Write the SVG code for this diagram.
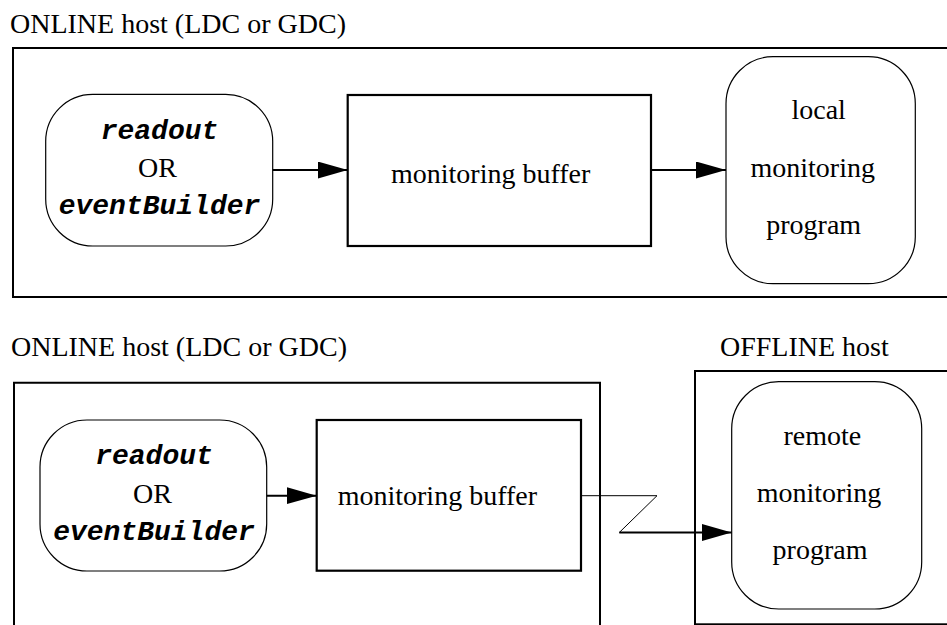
<svg xmlns="http://www.w3.org/2000/svg" width="947" height="625" viewBox="0 0 947 625">
  <style>
    .frame { fill: none; stroke: #000; stroke-width: 2; }
    .proc { fill: #fff; stroke: #000; stroke-width: 1.2; }
    .buf { fill: #fff; stroke: #000; stroke-width: 2.2; }
    .serif { font-family: "Liberation Serif", "Times New Roman", serif; font-size: 28px; fill: #000; }
    .mono { font-family: "Liberation Mono", "Courier New", monospace; font-size: 28px; font-weight: bold; font-style: italic; fill: #000; }
    .mid { text-anchor: middle; }
    .wire { fill: none; stroke: #000; stroke-width: 2; }
    .thin { fill: none; stroke: #000; stroke-width: 1; }
  </style>
  <defs>
    <marker id="arrow" markerUnits="userSpaceOnUse" markerWidth="31" markerHeight="18" refX="30" refY="8.5" orient="auto">
      <path d="M0,0 L30,8.5 L0,17 z" fill="#000"/>
    </marker>
  </defs>

  <rect width="947" height="625" fill="#fff"/>

  <!-- Local monitoring: host frame -->
  <g id="online-host-local">
    <text class="serif" x="10" y="33">ONLINE host (LDC or GDC)</text>
    <rect class="frame" x="13" y="48" width="950" height="249"/>
  </g>

  <g id="producer-local">
    <rect class="proc" x="45.7" y="94.3" width="227" height="151.7" rx="47" ry="47"/>
    <text class="mono mid" x="159.5" y="138.5">readout</text>
    <text class="serif mid" x="157.5" y="176.5">OR</text>
    <text class="mono mid" x="159.5" y="213.5">eventBuilder</text>
  </g>

  <g id="buffer-local">
    <rect class="buf" x="347.7" y="95" width="303.3" height="151"/>
    <text class="serif" x="391" y="182.5">monitoring buffer</text>
  </g>

  <g id="consumer-local">
    <rect class="proc" x="726" y="56.7" width="189.3" height="227" rx="47" ry="47"/>
    <text class="serif mid" x="818.7" y="118.5">local</text>
    <text class="serif mid" x="812.7" y="176.5">monitoring</text>
    <text class="serif mid" x="813.7" y="233.5">program</text>
  </g>

  <!-- Remote monitoring: online and offline host frames -->
  <g id="online-host-remote">
    <text class="serif" x="11" y="356">ONLINE host (LDC or GDC)</text>
    <path class="frame" d="M14,630 V382.7 H600 V630"/>
  </g>

  <g id="offline-host">
    <text class="serif" x="720" y="356">OFFLINE host</text>
    <rect class="frame" x="695" y="371" width="260" height="253.3"/>
  </g>

  <g id="producer-remote">
    <rect class="proc" x="40" y="420" width="226.7" height="151" rx="47" ry="47"/>
    <text class="mono mid" x="154" y="464">readout</text>
    <text class="serif mid" x="152.5" y="502.5">OR</text>
    <text class="mono mid" x="154" y="540">eventBuilder</text>
  </g>

  <g id="buffer-remote">
    <rect class="buf" x="316.7" y="420" width="264.3" height="150.7"/>
    <text class="serif" x="337.7" y="505">monitoring buffer</text>
  </g>

  <g id="consumer-remote">
    <rect class="proc" x="731.7" y="381.7" width="190" height="227.3" rx="47" ry="47"/>
    <text class="serif mid" x="822.3" y="445">remote</text>
    <text class="serif mid" x="819" y="502.3">monitoring</text>
    <text class="serif mid" x="820" y="558.5">program</text>
  </g>

  <!-- Data flow -->
  <g id="connectors">
    <line class="wire" x1="272.7" y1="170" x2="347.7" y2="170" marker-end="url(#arrow)"/>
    <line class="wire" x1="651" y1="170" x2="726" y2="170" marker-end="url(#arrow)"/>
    <line class="wire" x1="266.7" y1="495.7" x2="316.7" y2="495.7" marker-end="url(#arrow)"/>
    <!-- network link drawn as a lightning bolt -->
    <path class="thin" d="M581,495.7 H657 L619.3,532.5"/>
    <line class="wire" x1="619.3" y1="532.5" x2="731.7" y2="532.5" marker-end="url(#arrow)"/>
  </g>
</svg>
